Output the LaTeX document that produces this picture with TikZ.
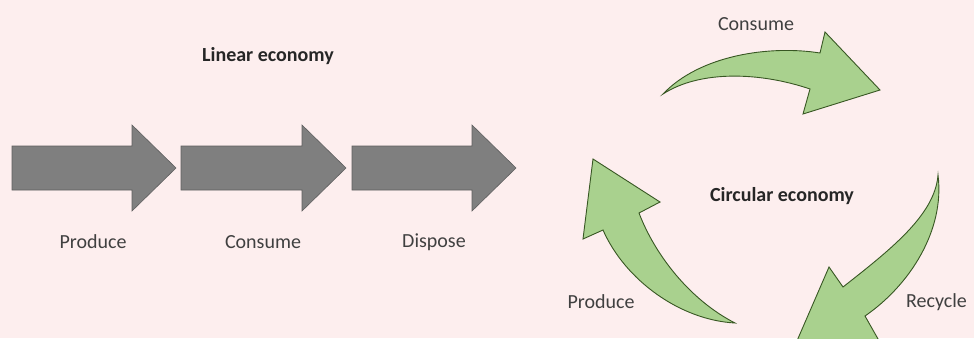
\documentclass[tikz,border=0pt]{standalone}
\usepackage{fontspec}
\setmainfont{Carlito}
\definecolor{bgpink}{RGB}{253,238,238}
\definecolor{arrgray}{RGB}{127,127,127}
\definecolor{arredge}{RGB}{95,95,95}
\definecolor{grfill}{RGB}{169,209,142}
\definecolor{gredge}{RGB}{56,87,35}
\definecolor{txt}{RGB}{64,64,64}
\tikzset{
  grayarrow/.style={fill=arrgray, draw=arredge, line width=0.6pt},
  greenarrow/.style={fill=grfill, draw=gredge, line width=0.9pt, line join=miter},
  lbl/.style={font=\fontsize{20}{22}\selectfont, text=txt, inner sep=0pt},
  title/.style={font=\fontsize{20}{22}\selectfont\bfseries, text=black!85, inner sep=0pt}
}
\begin{document}
\begin{tikzpicture}[x=1pt,y=-1pt]
\fill[bgpink] (0,0) rectangle (974,338);
\useasboundingbox (0,0) rectangle (974,338);
\clip (0,0) rectangle (974,338);
% linear arrows
\draw[grayarrow] (12,146) -- (132,146) -- (132,125) -- (176,168) -- (132,211) -- (132,190) -- (12,190) -- cycle;
\draw[grayarrow] (181,146) -- (302,146) -- (302,125) -- (346,168) -- (302,211) -- (302,190) -- (181,190) -- cycle;
\draw[grayarrow] (352,146) -- (472,146) -- (472,125) -- (516,168) -- (472,211) -- (472,190) -- (352,190) -- cycle;
\node[title] (lin) at (268,56) {Linear economy};
\node[lbl] (p1) at (93,242) {Produce};
\node[lbl] (c1) at (263,242) {Consume};
\node[lbl] (d1) at (434,242) {Dispose};
% circular arrows
\draw[greenarrow] (663,94) .. controls (700,55) and (770,45) .. (820,53)
  -- (825,32) -- (880,90) -- (803,114) -- (810,89)
  .. controls (760,72) and (700,70) .. cycle;
\draw[greenarrow] (938,175) .. controls (945,230) and (910,285) .. (865,316)
  -- (882,346) -- (793,350) -- (829,267) -- (843,287)
  .. controls (890,250) and (935,215) .. cycle;
\draw[greenarrow] (735,323) .. controls (690,300) and (655,255) .. (639,213)
  -- (660,202) -- (593,159) -- (583,239) -- (603,230)
  .. controls (625,280) and (680,320) .. cycle;
\node[lbl] (c2) at (756,24) {Consume};
\node[title] (circ) at (782,196) {Circular economy};
\node[lbl] (p2) at (601,302) {Produce};
\node[lbl, anchor=west] (r2) at (906,302) {Recycle};
\end{tikzpicture}
\end{document}
